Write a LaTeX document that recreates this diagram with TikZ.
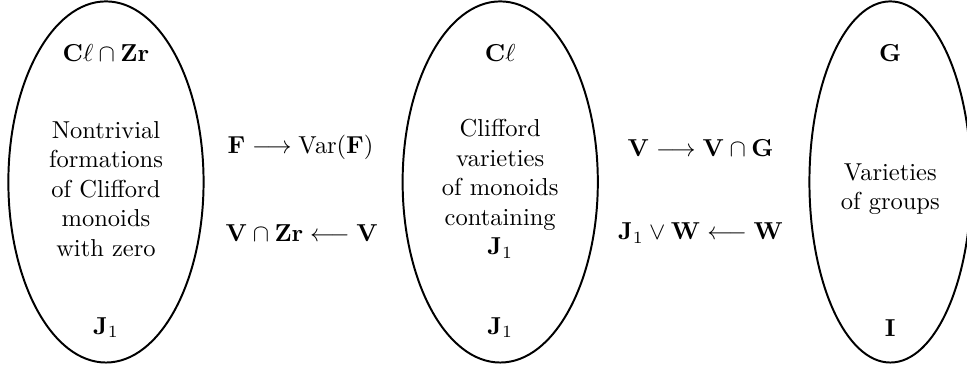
\documentclass[tikz,border=0pt]{standalone}
\usepackage{amsmath,amssymb}
\usepackage{tikz}
\usetikzlibrary{shapes.geometric, positioning}
\tikzstyle{blob} = [ellipse, draw=black, thick, minimum width=2.8cm, minimum height=5.18cm, inner sep=0pt]
\tikzstyle{body} = [align=center, text centered, inner sep=1pt]
\tikzstyle{maplbl} = [inner sep=1pt]

\begin{document}
\begin{tikzpicture}
    \useasboundingbox (0,0) rectangle (13.87,5.25);
    % the three classes
    \node (forms) [blob] at (1.52,2.64) {};
    \node (cliff) [blob] at (7.175,2.64) {};
    \node (groups) [blob, minimum width=2.32cm] at (12.77,2.64) {};

    \node (formstop) at (1.52,4.49) {$\mathbf{C}\ell\cap\mathbf{Zr}$};
    \node (formstxt) [body] at (1.52,2.54) {Nontrivial\\formations\\of Clifford\\monoids\\with zero};
    \node (formsbot) at (1.52,0.55) {$\mathbf{J}_1$};

    \node (clifftop) at (7.175,4.49) {$\mathbf{C}\ell$};
    \node (clifftxt) [body] at (7.175,2.54) {Clifford\\varieties\\of monoids\\containing\\$\mathbf{J}_1$};
    \node (cliffbot) at (7.175,0.55) {$\mathbf{J}_1$};

    \node (groupstop) at (12.77,4.49) {$\mathbf{G}$};
    \node (groupstxt) [body] at (12.77,2.54) {Varieties\\of groups};
    \node (groupsbot) at (12.77,0.55) {$\mathbf{I}$};

    % the maps
    \node (mapa) [maplbl] at (4.31,3.13) {$\mathbf{F}\longrightarrow\mathrm{Var}(\mathbf{F})$};
    \node (mapb) [maplbl] at (4.33,1.91) {$\mathbf{V}\cap\mathbf{Zr}\longleftarrow\mathbf{V}$};
    \node (mapc) [maplbl] at (10.05,3.13) {$\mathbf{V}\longrightarrow\mathbf{V}\cap\mathbf{G}$};
    \node (mapd) [maplbl] at (10.05,1.91) {$\mathbf{J}_1\vee\mathbf{W}\longleftarrow\mathbf{W}$};
\end{tikzpicture}
\end{document}
